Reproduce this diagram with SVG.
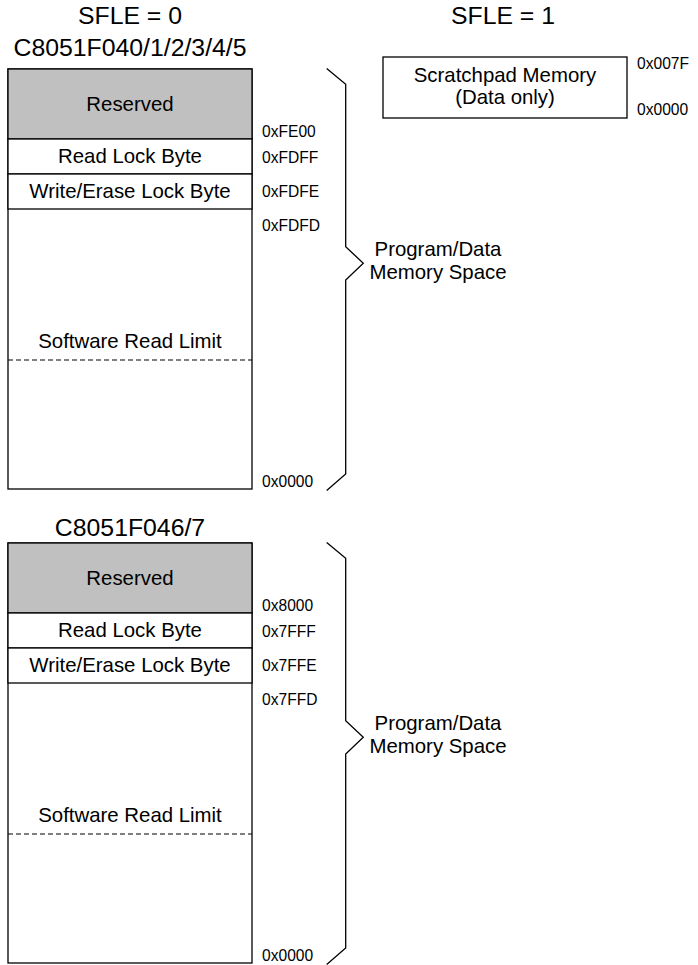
<svg xmlns="http://www.w3.org/2000/svg" width="698" height="965" viewBox="0 0 698 965">
<style>
text{font-family:"Liberation Sans",Arial,sans-serif;fill:#000}
.t{font-size:24.8px;text-anchor:middle}
.c{font-size:20.4px;text-anchor:middle}
.h{font-size:15.6px}
.box{fill:#fff;stroke:#000;stroke-width:1.3}
.res{fill:#c0c0c0;stroke:#000;stroke-width:1.3}
.dash{fill:none;stroke:#000;stroke-width:1.2;stroke-dasharray:5 3}
.brace{fill:none;stroke:#000;stroke-width:1.3;stroke-linejoin:miter}
</style>
<rect width="698" height="965" fill="#fff"/>
<g id="headers">
<text class="t" x="130" y="24">SFLE = 0</text>
<text class="t" x="503" y="24">SFLE = 1</text>
</g>
<g id="scratchpad">
<rect class="box" x="383" y="57" width="244" height="61"/>
<text class="c" x="505" y="82">Scratchpad Memory</text>
<text class="c" x="505" y="104">(Data only)</text>
<text class="h" x="637" y="69">0x007F</text>
<text class="h" x="637" y="115">0x0000</text>
</g>
<g id="map-f040">
<text class="t" x="130" y="56">C8051F040/1/2/3/4/5</text>
<rect class="box" x="8" y="69" width="244" height="420"/>
<rect class="res" x="8" y="69" width="244" height="70"/>
<rect class="box" x="8" y="139" width="244" height="35"/>
<rect class="box" x="8" y="174" width="244" height="35"/>
<text class="c" x="130" y="111">Reserved</text>
<text class="c" x="130" y="163">Read Lock Byte</text>
<text class="c" x="130" y="198">Write/Erase Lock Byte</text>
<text class="c" x="130" y="348">Software Read Limit</text>
<line class="dash" x1="8" y1="360" x2="252" y2="360"/>
<text class="h" x="262" y="137">0xFE00</text>
<text class="h" x="262" y="163">0xFDFF</text>
<text class="h" x="262" y="197">0xFDFE</text>
<text class="h" x="262" y="231">0xFDFD</text>
<text class="h" x="262" y="487">0x0000</text>
</g>
<g id="map-f046">
<text class="t" x="130" y="536">C8051F046/7</text>
<rect class="box" x="8" y="543" width="244" height="420"/>
<rect class="res" x="8" y="543" width="244" height="70"/>
<rect class="box" x="8" y="613" width="244" height="35"/>
<rect class="box" x="8" y="648" width="244" height="35"/>
<text class="c" x="130" y="585">Reserved</text>
<text class="c" x="130" y="637">Read Lock Byte</text>
<text class="c" x="130" y="672">Write/Erase Lock Byte</text>
<text class="c" x="130" y="822">Software Read Limit</text>
<line class="dash" x1="8" y1="834" x2="252" y2="834"/>
<text class="h" x="262" y="611">0x8000</text>
<text class="h" x="262" y="637">0x7FFF</text>
<text class="h" x="262" y="671">0x7FFE</text>
<text class="h" x="262" y="705">0x7FFD</text>
<text class="h" x="262" y="961">0x0000</text>
</g>
<g id="connectors">
<path class="brace" d="M326.7,68.5 L345.7,84.3 L345.7,246.7 L363.3,263.3 L345.7,280 L345.7,474 L326.7,490.5"/>
<path class="brace" d="M326.7,542.5 L345.7,558.3 L345.7,720.7 L363.3,737.3 L345.7,754 L345.7,948 L326.7,964.5"/>
</g>
<g id="brace-labels">
<text class="c" x="438" y="256">Program/Data</text>
<text class="c" x="438" y="279">Memory Space</text>
<text class="c" x="438" y="730">Program/Data</text>
<text class="c" x="438" y="753">Memory Space</text>
</g>
</svg>
